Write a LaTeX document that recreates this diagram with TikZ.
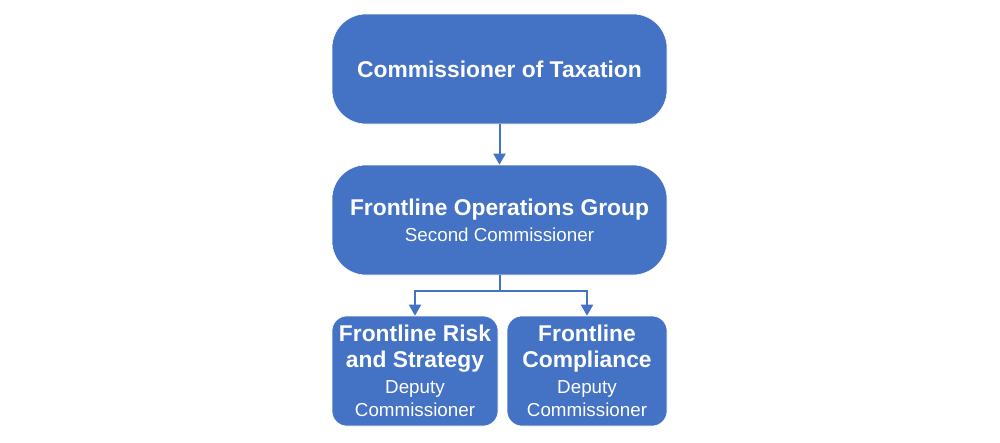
\documentclass[tikz,border=0pt]{standalone}
\usepackage{fontspec}
\setmainfont{Liberation Sans}
\usetikzlibrary{arrows.meta}
\definecolor{orgblue}{HTML}{4472C4}
\tikzset{
  unit/.style={fill=orgblue, draw=white, line width=0.6pt, text=white, align=center, inner sep=0pt,
    font=\fontsize{18.8}{26}\selectfont},
  bigunit/.style={unit, rounded corners=34pt, minimum width=335pt, minimum height=110pt},
  smallunit/.style={unit, rounded corners=15pt, minimum height=110pt},
  link/.style={draw=orgblue, line width=2pt, -{Triangle[length=11pt,width=12pt]}}
}
\newcommand{\headtxt}{\fontsize{22.8}{26}\selectfont\bfseries}
\begin{document}
\begin{tikzpicture}[x=1pt,y=-1pt]
\useasboundingbox (0,0) rectangle (1000,442);

\node[bigunit] (cot) at (499.5,69) {\headtxt Commissioner of Taxation};
\node[bigunit] (fog) at (499.5,220) {\headtxt Frontline Operations Group\\Second Commissioner};

\node[smallunit, minimum width=166pt] (frs) at (415,371)
  {\headtxt Frontline Risk\\\headtxt and Strategy\\Deputy\\[-3pt]Commissioner};
\node[smallunit, minimum width=160pt] (fc) at (587,371)
  {\headtxt Frontline\\\headtxt Compliance\\Deputy\\[-3pt]Commissioner};

\coordinate (split) at (499.5,291);

\draw[link] (cot) -- (fog);
\draw[draw=orgblue, line width=2pt] (fog) -- (split);
\draw[link] (split) -| (frs);
\draw[link] (split) -| (fc);
\end{tikzpicture}
\end{document}
